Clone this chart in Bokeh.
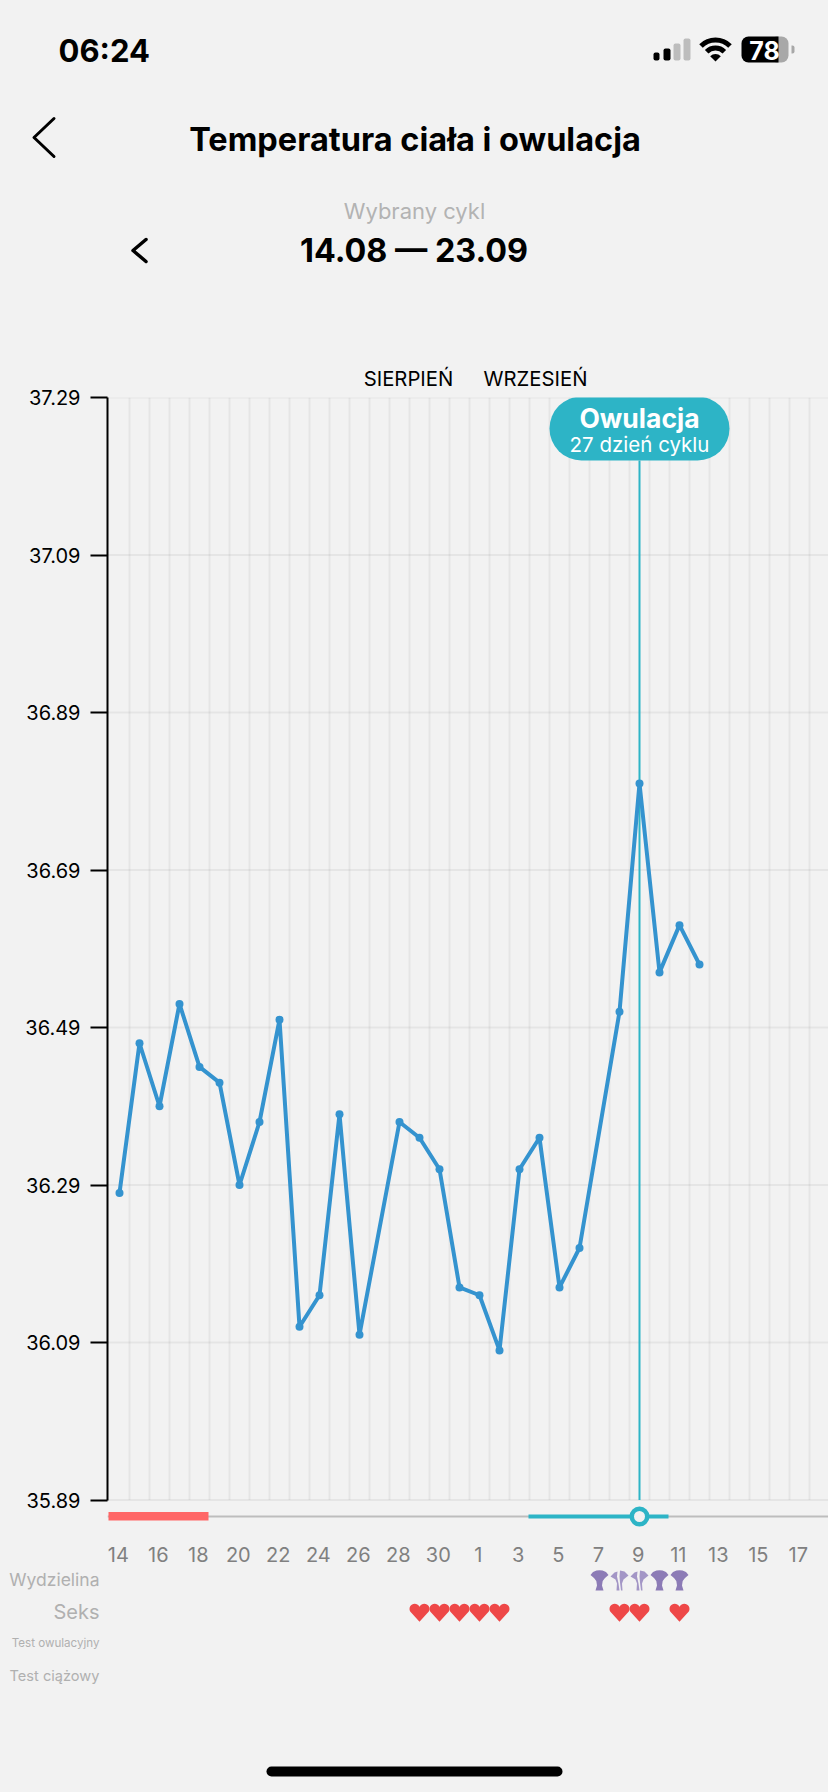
import math
from bokeh.embed import file_html
from bokeh.layouts import column
from bokeh.models import Range1d, FixedTicker, LinearAxis
from bokeh.plotting import figure
from bokeh.resources import INLINE
from bokeh.core.properties import value

# ---------- data ----------
days = [0,1,2,3,4,5,6,7,8,9,10,11,12,14,15,16,17,18,19,20,21,22,23,25,26,27,28,29]
temps = [36.28,36.47,36.39,36.52,36.44,36.42,36.29,36.37,36.50,36.11,36.15,36.38,36.10,
         36.37,36.35,36.31,36.16,36.15,36.08,36.31,36.35,36.16,36.21,36.51,36.80,36.56,36.62,36.57]
y_ticks = [35.89,36.09,36.29,36.49,36.69,36.89,37.09,37.29]
x_tick_days = list(range(0,36,2))
x_tick_labels = ["14","16","18","20","22","24","26","28","30","1","3","5","7","9","11","13","15","17"]
month_days = [14.45,20.8]
month_labels = ["SIERPIEŃ","WRZESIEŃ"]
ovulation_day = 26
period_span = (-0.55,4.45)
fertile_span = (20.45,27.45)
fan_full_days = [24,27,28]
fan_light_days = [25,26]
heart_days = [15,16,17,18,19,25,26,28]
row_labels = ["Wydzielina","Seks","Test owulacyjny","Test ciążowy"]

BG="#f2f2f2"; TEAL="#2db4c6"; BLUE="#3493cf"; FONT=value("Inter")
PX_DAY=20.0; DAY0=119.0; PX_DEG=787.5
FRAME_L=107
LABEL_NUDGE=-0.06

def setup(f):
    f.background_fill_color=BG; f.border_fill_color=BG; f.outline_line_color=None
    f.grid.visible=False
    f.frame_align=False
    return f

def txt(f,x,y,s,size,color,align="center",bold=False,**kw):
    f.text([x],[y],text=[s],text_font=FONT,text_font_size=f"{size}px",text_color=color,
           text_align=align,text_baseline="middle",text_font_style="bold" if bold else "normal",**kw)

# ---------- header ----------
h=setup(figure(width=828,height=350,x_range=Range1d(0,828),y_range=Range1d(350,0),
               toolbar_location=None,output_backend="svg",min_border=0,x_axis_type=None,y_axis_type=None))
txt(h,58,50,"06:24",31,"#000000","left",True)
h.line([53.5,33.5,53.5],[118,137,156],line_color="#000000",line_width=3,line_cap="round",line_join="round")
txt(h,414.5,139,"Temperatura ciała i owulacja",32.5,"#000000","center",True)
txt(h,414,210,"Wybrany cykl",22,"#b3b3b3")
h.line([145.5,132.5,145.5],[239,250,261],line_color="#000000",line_width=3.5,line_cap="round",line_join="round")
txt(h,413.5,250,"14.08 — 23.09",32.3,"#000000","center",True)
# signal bars
h.quad(left=[653,663,673,683],right=[659,670,680,690],top=[52,48,43,38],bottom=[60,60,60,60],
       fill_color=["#000000","#000000","#bdbdbd","#bdbdbd"],line_color=None,border_radius=2)
# wifi
h.arc([715,715],[60,60],radius=[20.5,12.5],start_angle=math.radians(45),end_angle=math.radians(135),
      line_color="#000000",line_width=5)
h.wedge([715],[61],radius=7.5,start_angle=math.radians(45),end_angle=math.radians(135),fill_color="#000000",line_color=None)
# battery
h.quad(left=[775],right=[788],top=[36],bottom=[62],fill_color="#a8a8a8",line_color=None,border_radius=(0,7,7,0))
h.quad(left=[741],right=[778],top=[36],bottom=[62],fill_color="#000000",line_color=None,border_radius=(7,0,0,7))
h.quad(left=[791],right=[794],top=[45],bottom=[53],fill_color="#a8a8a8",line_color=None,border_radius=(0,2,2,0))
txt(h,764,49.5,"78",25,"#ffffff","center",True)

# ---------- main chart ----------
F_TOP=47; F_H=1135; F_BOT=34
y_end=37.29
y_start=y_end-F_H/PX_DEG
px_to_temp=lambda py: y_end-(py-397)/PX_DEG
p=setup(figure(width=828,height=F_TOP+F_H+F_BOT,
               x_range=Range1d((FRAME_L-DAY0)/PX_DAY,(828-DAY0)/PX_DAY),
               y_range=Range1d(y_start,y_end),toolbar_location=None,output_backend="svg",
               min_border_left=FRAME_L,min_border_right=0,min_border_top=F_TOP,min_border_bottom=F_BOT,
               x_axis_type=None,y_axis_type=None))

x0=p.x_range.start; x1=p.x_range.end
grid_x=[d+0.5 for d in range(0,36)]
p.segment(grid_x,[y_ticks[0]]*len(grid_x),grid_x,[y_ticks[-1]]*len(grid_x),line_color="#000000",line_alpha=0.05,line_width=2)
p.segment([x0]*len(y_ticks),y_ticks,[x1]*len(y_ticks),y_ticks,line_color="#000000",line_alpha=0.05,line_width=2)

yax=LinearAxis(ticker=FixedTicker(ticks=y_ticks),bounds=(y_ticks[0],y_ticks[-1]),
               axis_line_color="#000000",axis_line_width=2,major_tick_line_color="#000000",major_tick_line_width=2,
               major_tick_in=0,major_tick_out=17,minor_tick_out=0,minor_tick_in=0,major_label_standoff=10,
               major_label_text_font="Inter",major_label_text_font_size="20px",major_label_text_color="#000000")
p.add_layout(yax,"left")

x_tick_pos=[d+LABEL_NUDGE for d in x_tick_days]
xax=LinearAxis(ticker=FixedTicker(ticks=x_tick_pos),major_label_overrides=dict(zip(x_tick_pos,x_tick_labels)),
               axis_line_color=None,major_tick_line_color=None,minor_tick_line_color=None,major_label_standoff=8,
               major_label_text_font="Inter",major_label_text_font_size="20px",major_label_text_color="#808080")
p.add_layout(xax,"below")

top=LinearAxis(ticker=FixedTicker(ticks=month_days),major_label_overrides=dict(zip(month_days,month_labels)),
               axis_line_color=None,major_tick_line_color=None,minor_tick_line_color=None,major_label_standoff=1,
               major_label_text_font="Inter",major_label_text_font_size="20.3px",major_label_text_color="#000000")
p.add_layout(top,"above")

# ovulation marker
p.line([ovulation_day,ovulation_day],[y_ticks[0],px_to_temp(460)],line_color=TEAL,line_width=2)
p.quad(left=[ovulation_day-4.5],right=[ovulation_day+4.5],top=[px_to_temp(396)],bottom=[px_to_temp(460)],
       fill_color=TEAL,line_color=None,border_radius=32)
txt(p,ovulation_day,px_to_temp(417.5),"Owulacja",26.5,"#ffffff","center",True)
txt(p,ovulation_day,px_to_temp(444),"27 dzień cyklu",20.5,"#ffffff")

# temperature
p.line(days,temps,line_color=BLUE,line_width=4,line_join="round")
p.scatter(days,temps,size=8,fill_color=BLUE,line_color=None)

# timeline band
band_y=px_to_temp(1516)
p.line([x0,x1],[band_y,band_y],line_color="#bdbdbd",line_width=2)
p.quad(left=[period_span[0]],right=[period_span[1]],top=[px_to_temp(1511.5)],bottom=[px_to_temp(1520)],fill_color="#ff6666",line_color=None)
p.line(list(fertile_span),[band_y,band_y],line_color=TEAL,line_width=4)
p.scatter([ovulation_day],[band_y],size=15.5,fill_color=BG,line_color=TEAL,line_width=4.5)

# ---------- events ----------
e=setup(figure(width=828,height=226,x_range=Range1d((0-DAY0)/PX_DAY,(828-DAY0)/PX_DAY),y_range=Range1d(1792,1566),
               toolbar_location=None,output_backend="svg",min_border=0,x_axis_type=None,y_axis_type=None))
e.extra_x_ranges={"px":Range1d(0,828)}
for s,py,size in zip(row_labels,[1579,1611,1642,1675],[17.5,20,11.6,14.6]):
    txt(e,99,py,s,size,"#b0b0b0","right",x_range_name="px")

R=5.2; CX=4.8; CY=-3.6
arc_pts=[(CX+R*math.cos(math.radians(a)),CY-R*math.sin(math.radians(a))) for a in range(180,-45,-15)]
HEART=[(0,9.2)]+[(-x,y) for x,y in reversed(arc_pts)]+arc_pts[1:]
FAN=[(-9,-5.5),(-6.5,-8.5),(-3,-10),(0,-10.3),(3,-10),(6.5,-8.5),(9,-5.5),(5.5,-2.5),(3.2,0.5),(2.5,5),(4,10),(-4,10),(-2.5,5),(-3.2,0.5),(-5.5,-2.5)]
PET_L=[(-9,-4),(-5,-8),(-2,-9),(-2.5,-4),(-1,3),(0,10),(-3,10),(-2.5,3),(-4,-1)]
PET_R=[(0.5,-10),(5,-9),(9,-5),(4,-1),(2.5,3),(3,10),(1.5,10),(0.5,2),(0,-4)]
def shapes(ds,shape,cy):
    return [[d+dx/PX_DAY for dx,dy in shape] for d in ds],[[cy+dy for dx,dy in shape] for d in ds]
xs,ys=shapes(heart_days,HEART,1612)
e.patches(xs,ys,fill_color="#ee4747",line_color=None)
xs,ys=shapes(fan_full_days,FAN,1580)
e.patches(xs,ys,fill_color="#8c7bb6",line_color=None)
for sh in (PET_L,PET_R):
    xs,ys=shapes(fan_light_days,sh,1580)
    e.patches(xs,ys,fill_color="#a396c6",line_color=None)
# home indicator
e.line([271,557],[1771,1771],x_range_name="px",line_color="#000000",line_width=10,line_cap="round")

html=file_html(column(h,p,e,spacing=0),INLINE)
html=html.replace("<head>","<head><style>html,body{background:#f2f2f2}</style>",1)
open("out.html","w").write(html)
